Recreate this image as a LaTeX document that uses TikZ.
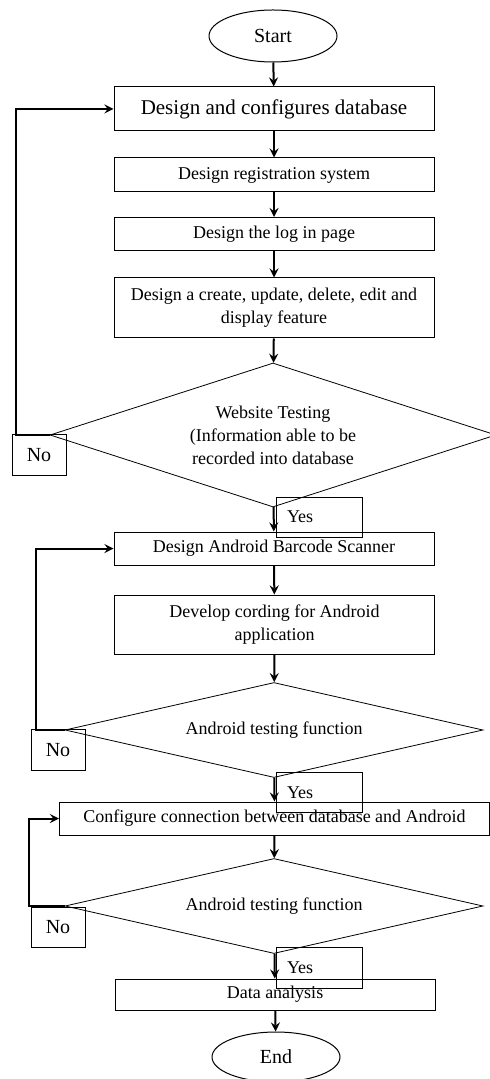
\documentclass[tikz,border=0pt]{standalone}
\usepackage{fontspec}
\setmainfont{Liberation Serif}
\usetikzlibrary{shapes.geometric}
\begin{document}
\begin{tikzpicture}[x=.5pt, y=-.5pt, >=stealth,
  every node/.style={font=\fontsize{9}{11.5}\selectfont, inner sep=0pt, align=center},
  box/.style={draw, line width=.5pt, minimum width=160pt},
  dec/.style={draw, diamond, aspect=3, line width=.4pt},
  term/.style={draw, ellipse, line width=.5pt, minimum width=64pt, minimum height=26pt, font=\fontsize{10}{12}\selectfont},
  tag/.style={draw, line width=.5pt, minimum width=27pt, minimum height=20.5pt, font=\fontsize{10}{12}\selectfont},
  yestag/.style={draw, line width=.5pt, minimum width=43pt, minimum height=20pt, text width=32pt, align=left},
  flow/.style={->, line width=1pt}]
\useasboundingbox (0,0) rectangle (490,1079);

\node[term] (start) at (273,36) {Start};
\node[box, minimum height=22pt, font=\fontsize{10.5}{12}\selectfont] (b1) at (274,109) {Design and configures database};
\node[box, minimum height=17pt] (b2) at (274,175) {Design registration system};
\node[box, minimum height=16.5pt] (b3) at (274,234) {Design the log in page};
\node[box, minimum height=30pt] (b4) at (274,308) {Design a create, update, delete, edit and\\display feature};
\node[dec, minimum width=223pt, minimum height=72pt] (d1) at (273,435) {Website Testing\\(Information able to be\\recorded into database};
\node[tag] (no1) at (39,455) {No};
\node[yestag] (yes1) at (319,517) {Yes};

\node[box, minimum height=16.5pt] (b5) at (274,548.5) {Design Android Barcode Scanner};
\node[box, minimum height=29.5pt] (b6) at (274.5,624.5) {Develop cording for Android\\application};
\node[dec, minimum width=209pt, minimum height=47.5pt] (d2) at (274,730) {Android testing function};
\node[tag] (no2) at (58,750) {No};
\node[yestag] (yes2) at (319,792.5) {Yes};

\node[box, minimum width=215pt, minimum height=16.5pt] (b7) at (274.5,818.5) {Configure connection between database and Android};
\node[dec, minimum width=209pt, minimum height=47.5pt] (d3) at (274,906) {Android testing function};
\node[tag, minimum height=20pt] (no3) at (58,927) {No};
\node[yestag, minimum height=20.5pt] (yes3) at (319,967.5) {Yes};

\node[box, minimum height=15.5pt] (b8) at (275,994.5) {Data analysis};
\node[term, minimum height=25pt] (end) at (276,1057) {End};

\foreach \a/\b in {start/b1, b1/b2, b2/b3, b3/b4, b4/d1, d1/b5, b5/b6, b6/d2, d2/b7, b7/d3, d3/b8, b8/end}
{
    \draw[flow] (\a) -- (\b);
}

\draw[flow] (d1.west) -- ++(-34,0) |- (b1.west);
\draw[flow] (d2.west) -- ++(-29,0) |- (b5.west);
\draw[flow] (d3.west) -- ++(-36,0) |- (b7.west);

\end{tikzpicture}
\end{document}
